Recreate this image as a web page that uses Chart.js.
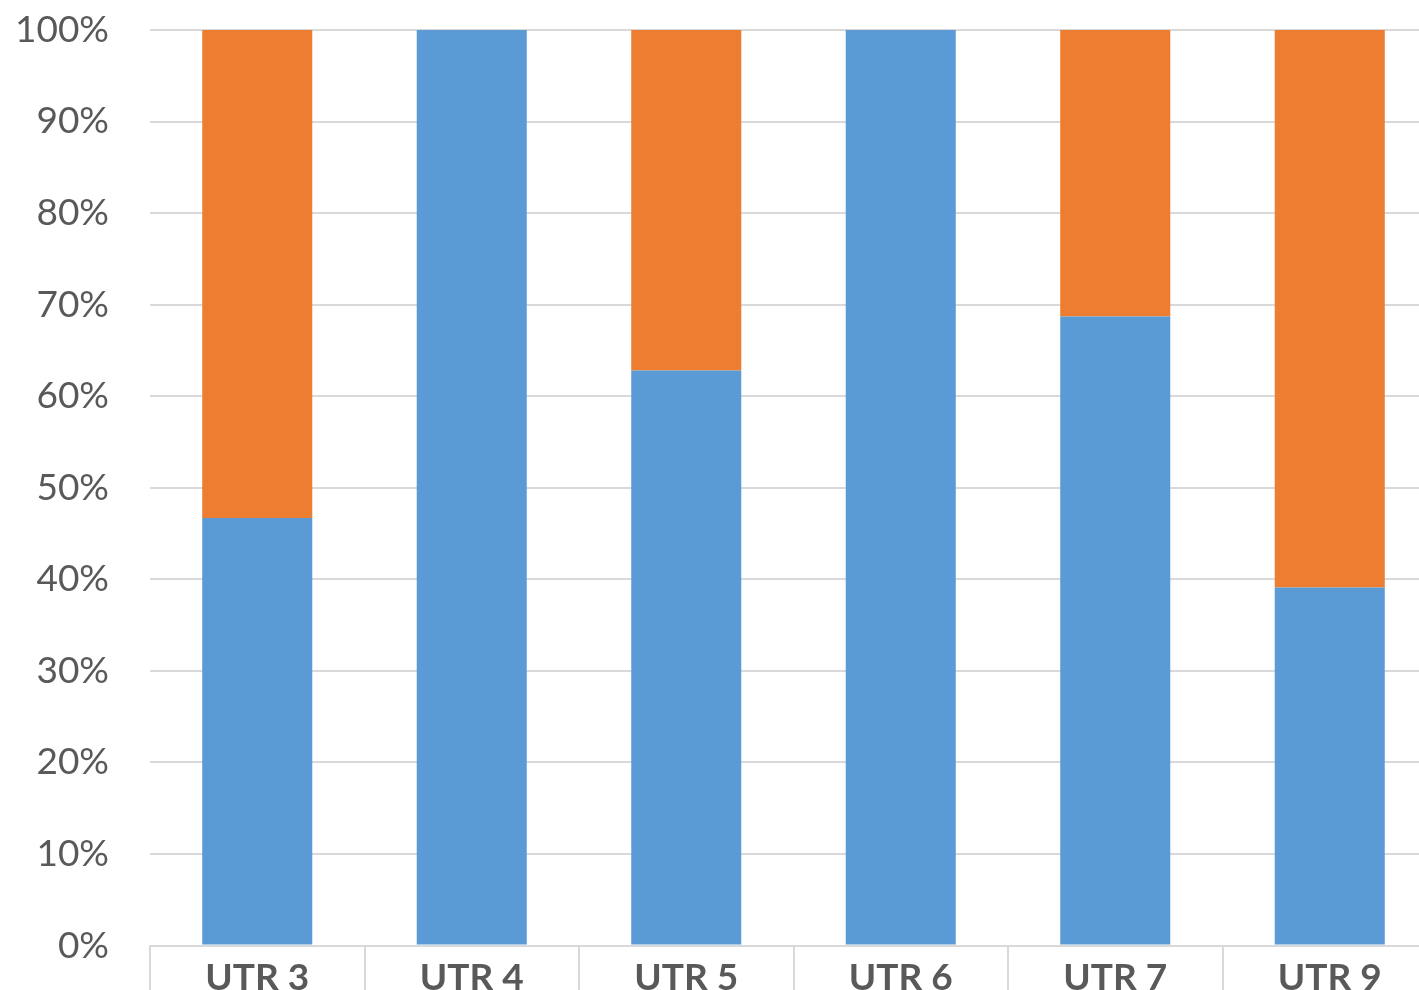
<!DOCTYPE html>
<html>
<head>
<meta charset="utf-8">
<script src="https://cdn.jsdelivr.net/npm/chart.js@4/dist/chart.umd.min.js"></script>
<style>
  html, body { margin:0; padding:0; overflow:hidden; background:#fff; }
  #wrap { position:relative; width:1438px; height:1002px; }
</style>
</head>
<body>
<div id="wrap"><canvas id="bars"></canvas></div>
<script>
let labelsUtr = ['UTR 3','UTR 4','UTR 5','UTR 6','UTR 7','UTR 9']
let dataBlue = [46.7, 100, 62.8, 100, 68.7, 39.1]
let dataOrange = [53.3, 0, 37.2, 0, 31.3, 60.9]
let tickValues = [0,10,20,30,40,50,60,70,80,90,100]

// separators between categories, running down through the label row
let separators = {
  id:'separators',
  afterDraw(chart){
    let x = chart.scales.x
    let c = chart.ctx
    c.save()
    c.strokeStyle = '#d9d9d9'
    c.lineWidth = 2
    for (let i = 0; i <= labelsUtr.length; i++) {
      let px = Math.round(x.getPixelForValue(i - 0.5))
      c.beginPath()
      c.moveTo(px, chart.chartArea.bottom)
      c.lineTo(px, chart.height)
      c.stroke()
    }
    c.restore()
  }
}

let ctx = document.querySelector('#bars').getContext('2d')

let chart = new Chart(ctx, {
  type:'bar',
  data:{
    labels:labelsUtr,
    datasets:[
      { data:dataBlue, backgroundColor:'#5B9BD5', categoryPercentage:1, barPercentage:0.513 },
      { data:dataOrange, backgroundColor:'#ED7D31', categoryPercentage:1, barPercentage:0.513 }
    ]
  },
  options:{
    responsive:true,
    maintainAspectRatio:false,
    animation:false,
    layout:{ padding:{ top:30, right:1, left:0, bottom:0 } },
    plugins:{ legend:{ display:false }, tooltip:{ enabled:false } },
    scales:{
      x:{
        stacked:true,
        grid:{ display:false },
        border:{ display:true, color:'#d9d9d9', width:2 },
        ticks:{ color:'#595959', padding:2, maxRotation:0, minRotation:0, autoSkip:false, font:{ family:'Lato', size:37, weight:'bold' } }
      },
      y:{
        stacked:true,
        min:0, max:100,
        afterBuildTicks: s => { s.ticks = tickValues.map(v => ({ value:v })) },
        afterFit: s => { s.width = 150 },
        grid:{ color:'#d9d9d9', lineWidth:2, drawTicks:true, tickLength:41, tickColor:'rgba(0,0,0,0)' },
        border:{ display:false },
        ticks:{ color:'#595959', padding:0, font:{ family:'Lato', size:37 }, callback: v => v + '%' }
      }
    }
  },
  plugins:[separators]
})
</script>
</body>
</html>
